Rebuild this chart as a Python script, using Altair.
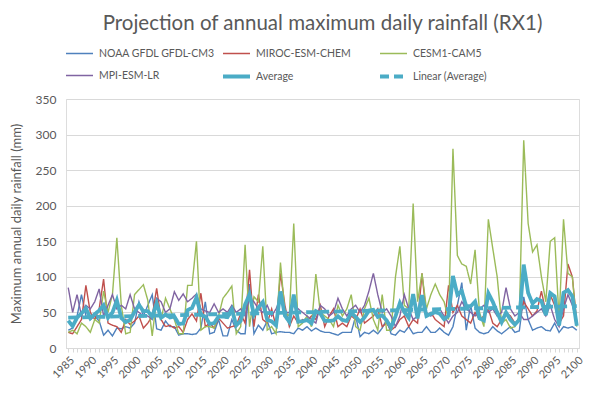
import altair as alt
import pandas as pd

years = list(range(1985, 2101))

noaa = [25, 28, 45, 75, 45, 40, 45, 38, 18, 25,
        17, 28, 27, 30, 28, 35, 65, 45, 60, 75,
        27, 25, 38, 30, 30, 18, 20, 20, 19, 20,
        28, 65, 20, 22, 40, 17, 17, 40, 25, 20,
        20, 90, 20, 32, 25, 38, 20, 22, 23, 22,
        22, 20, 28, 25, 30, 24, 28, 24, 22, 22,
        20, 18, 22, 22, 22, 45, 16, 22, 20, 25,
        20, 28, 40, 20, 18, 25, 22, 30, 20, 22,
        22, 30, 22, 22, 28, 22, 18, 30, 60, 92,
        25, 60, 28, 22, 20, 22, 30, 24, 20, 25,
        30, 22, 24, 72, 40, 25, 28, 30, 25, 24,
        35, 22, 30, 28, 30, 25]

miroc = [22, 20, 30, 40, 88, 50, 40, 55, 97, 35,
         32, 30, 22, 40, 33, 38, 45, 28, 35, 45,
         84, 40, 30, 32, 28, 30, 22, 40, 48, 38,
         77, 30, 35, 28, 42, 35, 28, 30, 32, 48,
         35, 110, 30, 75, 40, 35, 55, 30, 105, 60,
         30, 45, 35, 40, 38, 45, 40, 60, 30, 45,
         55, 30, 35, 30, 45, 40, 55, 35, 40, 45,
         55, 30, 35, 25, 30, 40, 45, 30, 40, 35,
         105, 45, 50, 40, 35, 30, 88, 50, 60, 45,
         40, 35, 50, 40, 45, 55, 35, 30, 40, 50,
         45, 35, 40, 65, 55, 45, 52, 80, 50, 75,
         60, 35, 45, 118, 100, 35]

cesm = [22, 25, 20, 35, 30, 22, 40, 35, 80, 50,
        75, 155, 60, 20, 22, 75, 82, 89, 67, 17,
        70, 40, 70, 55, 40, 20, 20, 88, 88, 150,
        25, 30, 30, 28, 45, 70, 78, 87, 20, 30,
        145, 30, 72, 65, 143, 25, 30, 20, 120, 50,
        45, 175, 30, 35, 45, 30, 104, 50, 45, 40,
        30, 60, 45, 55, 75, 30, 25, 55, 70, 40,
        25, 75, 25, 25, 100, 143, 60, 55, 203, 65,
        105, 55, 75, 90, 75, 65, 40, 280, 130, 118,
        115, 90, 138, 50, 30, 181, 140, 100, 35, 40,
        28, 30, 45, 292, 175, 135, 145, 100, 65, 150,
        155, 40, 181, 105, 100, 30]

mpi = [85, 50, 75, 45, 60, 55, 65, 83, 45, 60,
       75, 55, 60, 55, 75, 55, 50, 45, 45, 40,
       70, 65, 50, 55, 79, 67, 76, 65, 70, 76,
       55, 52, 50, 62, 50, 55, 50, 60, 50, 55,
       45, 70, 65, 55, 50, 60, 45, 55, 70, 50,
       50, 60, 55, 50, 45, 40, 35, 60, 55, 45,
       50, 70, 55, 45, 55, 60, 50, 60, 80, 105,
       75, 50, 55, 45, 30, 45, 75, 55, 40, 45,
       65, 50, 45, 50, 55, 45, 35, 45, 50, 65,
       55, 50, 45, 55, 60, 50, 55, 45, 50, 85,
       55, 45, 50, 40, 40, 45, 50, 55, 45, 60,
       40, 30, 55, 75, 60, 35]

series_names = ["NOAA GFDL GFDL-CM3", "MIROC-ESM-CHEM", "CESM1-CAM5",
                "MPI-ESM-LR", "Average", "Linear (Average)"]
colors = ["#4F81BD", "#C0504D", "#9BBB59", "#8064A2", "#4BACC6", "#4BACC6"]
widths = [1.4, 1.4, 1.4, 1.4, 3.8, 3.8]
dashes = [[1, 0], [1, 0], [1, 0], [1, 0], [1, 0], [9, 5]]

rows = []
for name, vals in zip(series_names[:4], [noaa, miroc, cesm, mpi]):
    for y, v in zip(years, vals):
        rows.append({"year": y, "series": name, "value": v})
df = pd.DataFrame(rows)

FONT = "Lato"
GREY = "#595959"

x_enc = alt.X("year:Q",
              scale=alt.Scale(domain=[1984.5, 2100.5], nice=False, zero=False),
              axis=alt.Axis(title=None, values=years, labelAngle=-45,
                            labelExpr="datum.value % 5 == 0 ? datum.value : ''",
                            labelFontSize=11, labelColor=GREY, labelFont=FONT,
                            tickColor="#d9d9d9", tickSize=4, domainColor="#d9d9d9",
                            grid=False, labelPadding=2, labelOverlap=False))
y_enc = alt.Y("value:Q", scale=alt.Scale(domain=[0, 350]),
              axis=alt.Axis(title="Maximum annual daily rainfall (mm)",
                            values=list(range(0, 351, 50)), domain=False, ticks=False,
                            gridColor="#d9d9d9", labelFontSize=12, labelColor=GREY,
                            labelFont=FONT, titleFont=FONT, titleFontSize=13,
                            titleFontWeight="normal", titleColor=GREY, labelPadding=10,
                            titlePadding=12))
leg = alt.Legend(orient="none", legendX=-2, legendY=-62, columns=3, direction="horizontal",
                 gridAlign="all", columnPadding=0, rowPadding=0,
                 symbolType="stroke", symbolSize=729, labelFont=FONT,
                 labelFontSize=10.5, labelColor=GREY, labelOffset=4)
enc = dict(
    x=x_enc, y=y_enc,
    color=alt.Color("series:N", title=None,
                    scale=alt.Scale(domain=series_names, range=colors), legend=leg),
    strokeWidth=alt.StrokeWidth("series:N", title=None,
                                scale=alt.Scale(type="ordinal", domain=series_names, range=widths),
                                legend=leg),
    strokeDash=alt.StrokeDash("series:N", title=None,
                              scale=alt.Scale(domain=series_names, range=dashes), legend=leg),
)

base = alt.Chart(df)
models = base.mark_line().encode(**enc)
avg = (base.transform_aggregate(value="mean(value)", groupby=["year"])
       .transform_calculate(series='"Average"')
       .mark_line().encode(**enc))
lin = (base.transform_aggregate(value="mean(value)", groupby=["year"])
       .transform_regression("year", "value", extent=[1985, 2100])
       .transform_calculate(series='"Linear (Average)"')
       .mark_line().encode(**enc))

chart = (alt.layer(models, avg, lin)
         .properties(width=513, height=249,
                     title=alt.Title("Projection of annual maximum daily rainfall (RX1)",
                                     font=FONT, fontSize=20.5, fontWeight="normal",
                                     color=GREY, anchor="middle", offset=3),
                     autosize=alt.AutoSizeParams(type="none"),
                     padding={"left": 58, "top": 91, "right": 15, "bottom": 37})
         .configure_view(stroke=None)
         .configure(background="white"))

chart.save("out.html", embed_options={"renderer": "svg", "actions": False})
